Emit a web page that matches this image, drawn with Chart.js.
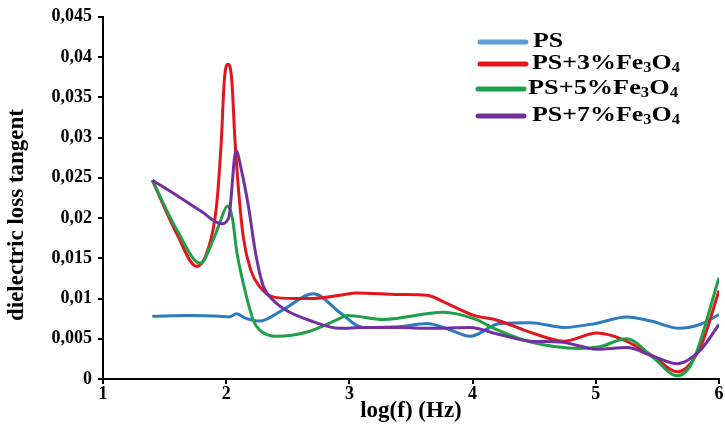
<!DOCTYPE html>
<html>
<head>
<meta charset="utf-8">
<script src="https://cdn.jsdelivr.net/npm/chart.js@4/dist/chart.umd.min.js"></script>
<style>
html,body{margin:0;padding:0;background:#fff;}
#wrap{width:725px;height:426px;}
</style>
</head>
<body>
<div id="wrap"><canvas id="c" width="725" height="426"></canvas></div>
<script>
// ---- data ----
const seriesLabels = ['PS', 'PS+3%Fe\u2083O\u2084', 'PS+5%Fe\u2083O\u2084', 'PS+7%Fe\u2083O\u2084'];
const xTickValues = [1, 2, 3, 4, 5, 6];
const yTickStep = 0.005;

const psX  = [1.40, 1.70, 1.95, 2.02, 2.085, 2.15, 2.27, 2.45, 2.71, 2.92, 3.11, 3.40, 3.63, 3.80, 3.98, 4.22, 4.47, 4.74, 5.00, 5.25, 5.45, 5.68, 5.85, 6.00];
const psY  = [0.0078, 0.0079, 0.0078, 0.0077, 0.0081, 0.0076, 0.0072, 0.0085, 0.0106, 0.0083, 0.0064, 0.0065, 0.0069, 0.0062, 0.0053, 0.0069, 0.0070, 0.0064, 0.0069, 0.0077, 0.0072, 0.0063, 0.0068, 0.0080];

const ps3X = [1.40, 1.60, 1.76, 1.85, 1.92, 1.96, 1.985, 2.015, 2.045, 2.07, 2.10, 2.14, 2.20, 2.27, 2.38, 2.55, 2.70, 2.92, 3.06, 3.40, 3.63, 3.79, 4.01, 4.20, 4.47, 4.74, 5.01, 5.22, 5.47, 5.66, 5.85, 6.00];
const ps3Y = [0.0247, 0.0180, 0.0140, 0.0160, 0.0213, 0.0295, 0.0372, 0.0391, 0.0372, 0.0300, 0.0235, 0.0175, 0.0135, 0.0115, 0.0102, 0.0100, 0.0100, 0.0104, 0.0107, 0.0105, 0.0104, 0.0094, 0.0079, 0.0073, 0.0058, 0.0047, 0.0057, 0.0049, 0.0028, 0.0009, 0.0040, 0.0110];

const ps5X = [1.40, 1.60, 1.79, 1.90, 1.95, 2.01, 2.05, 2.085, 2.14, 2.22, 2.27, 2.41, 2.65, 2.92, 2.98, 3.28, 3.76, 4.01, 4.20, 4.47, 4.87, 5.03, 5.25, 5.47, 5.66, 5.79, 6.00];
const ps5Y = [0.0247, 0.0185, 0.0144, 0.0175, 0.0195, 0.0215, 0.0200, 0.0159, 0.0118, 0.0073, 0.0061, 0.0053, 0.0058, 0.0075, 0.0079, 0.0074, 0.0083, 0.0075, 0.0061, 0.0046, 0.0038, 0.0040, 0.0050, 0.0026, 0.0004, 0.0023, 0.0126];

const ps7X = [1.40, 1.60, 1.80, 1.96, 2.02, 2.08, 2.12, 2.18, 2.24, 2.30, 2.38, 2.49, 2.71, 2.92, 3.11, 3.40, 3.65, 3.98, 4.20, 4.47, 4.71, 5.01, 5.25, 5.47, 5.66, 5.85, 6.00];
const ps7Y = [0.0247, 0.0228, 0.0208, 0.0193, 0.0200, 0.0284, 0.0262, 0.0215, 0.0155, 0.0116, 0.0098, 0.0085, 0.0071, 0.0063, 0.0064, 0.0064, 0.0063, 0.0064, 0.0056, 0.0047, 0.0046, 0.0037, 0.0039, 0.0028, 0.0019, 0.0036, 0.0068];

const seriesColors = ['rgb(44,122,192)', 'rgb(228,20,28)', 'rgb(30,160,72)', 'rgb(112,48,160)'];
const legendColors = ['rgb(92,158,212)', 'rgb(228,20,28)', 'rgb(30,160,72)', 'rgb(112,48,160)'];

// ---- build datasets ----
const xs = [psX, ps3X, ps5X, ps7X];
const ys = [psY, ps3Y, ps5Y, ps7Y];
const FONT = '"Liberation Serif", "Times New Roman", serif';

const datasets = seriesLabels.map((lab, i) => ({
  label: lab,
  data: xs[i].map((x, k) => ({x: x, y: ys[i][k]})),
  borderColor: seriesColors[i],
  backgroundColor: seriesColors[i],
  borderWidth: 3,
  pointRadius: 0,
  fill: false,
  cubicInterpolationMode: 'monotone',
  order: 4 - i
}));

const SUB = '\u2080\u2081\u2082\u2083\u2084\u2085\u2086\u2087\u2088\u2089';
function richParts(text) {
  return Array.from(text).map(ch => {
    const k = SUB.indexOf(ch);
    return k >= 0 ? {t: String(k), sub: true} : {t: ch, sub: false};
  });
}
function drawRich(ctx, text, x, y, size, targetW) {
  const parts = richParts(text);
  const big = 'bold ' + size + 'px ' + FONT;
  const small = 'bold ' + Math.round(size * 0.62) + 'px ' + FONT;
  let w = 0;
  parts.forEach(p => { ctx.font = p.sub ? small : big; p.w = ctx.measureText(p.t).width; w += p.w; });
  const sx = targetW / w;
  ctx.save();
  ctx.translate(x, y);
  ctx.scale(sx, 1);
  let cx = 0;
  parts.forEach(p => {
    ctx.font = p.sub ? small : big;
    ctx.fillText(p.t, cx, p.sub ? size * 0.12 : 0);
    cx += p.w;
  });
  ctx.restore();
}

const decorPlugin = {
  id: 'decor',
  afterDraw(chart) {
    const ctx = chart.ctx;
    ctx.save();
    ctx.fillStyle = '#000';
    ctx.font = 'bold 23px ' + FONT;
    ctx.textAlign = 'center';
    ctx.textBaseline = 'middle';
    ctx.save();
    ctx.translate(17, 215);
    ctx.rotate(-Math.PI / 2);
    ctx.fillText('dielectric loss tangent', 0, 0);
    ctx.restore();
    ctx.fillText('log(f) (Hz)', 411, 411);
    // legend
    const rows = [42, 64, 89, 116];
    const lineX0 = [480, 480, 478, 478];
    const textX = [533, 532, 528, 532];
    const textW = [30, 148, 150, 148];
    ctx.lineCap = 'round';
    ctx.lineWidth = 5;
    ctx.textAlign = 'left';
    ctx.textBaseline = 'alphabetic';
    chart.data.datasets.forEach((d, i) => {
      ctx.strokeStyle = legendColors[i];
      ctx.beginPath();
      ctx.moveTo(lineX0[i], rows[i]);
      ctx.lineTo(lineX0[i] + 46, rows[i]);
      ctx.stroke();
      ctx.fillStyle = '#000';
      drawRich(ctx, d.label, textX[i], rows[i] + 5, 22, textW[i]);
    });
    ctx.restore();
  }
};

new Chart(document.getElementById('c'), {
  type: 'line',
  data: { datasets: datasets },
  options: {
    responsive: false,
    animation: false,
    devicePixelRatio: 1,
    layout: { padding: { top: 15, right: 6, left: 0, bottom: 0 } },
    plugins: { legend: { display: false }, tooltip: { enabled: false } },
    scales: {
      x: {
        type: 'linear',
        min: 1, max: 6,
        afterBuildTicks(scale) { scale.ticks = xTickValues.map(v => ({value: v})); },
        afterFit(scale) { scale.height = 47; },
        border: { display: true, color: '#000', width: 2 },
        grid: { drawOnChartArea: false, drawTicks: true, tickLength: 5, color: '#000', lineWidth: 2 },
        ticks: { color: '#000', padding: 0, maxRotation: 0, font: { family: FONT, size: 18, weight: 'bold' } }
      },
      y: {
        type: 'linear',
        min: 0, max: 0.045,
        ticks: {
          stepSize: yTickStep,
          color: '#000',
          padding: 6,
          font: { family: FONT, size: 18, weight: 'bold' },
          callback: v => String(Number(v.toFixed(3))).replace('.', ',')
        },
        afterFit(scale) { scale.width = 103; },
        border: { display: true, color: '#000', width: 2 },
        grid: { drawOnChartArea: false, drawTicks: true, tickLength: 5, color: '#000', lineWidth: 2 }
      }
    }
  },
  plugins: [decorPlugin]
});
</script>
</body>
</html>
